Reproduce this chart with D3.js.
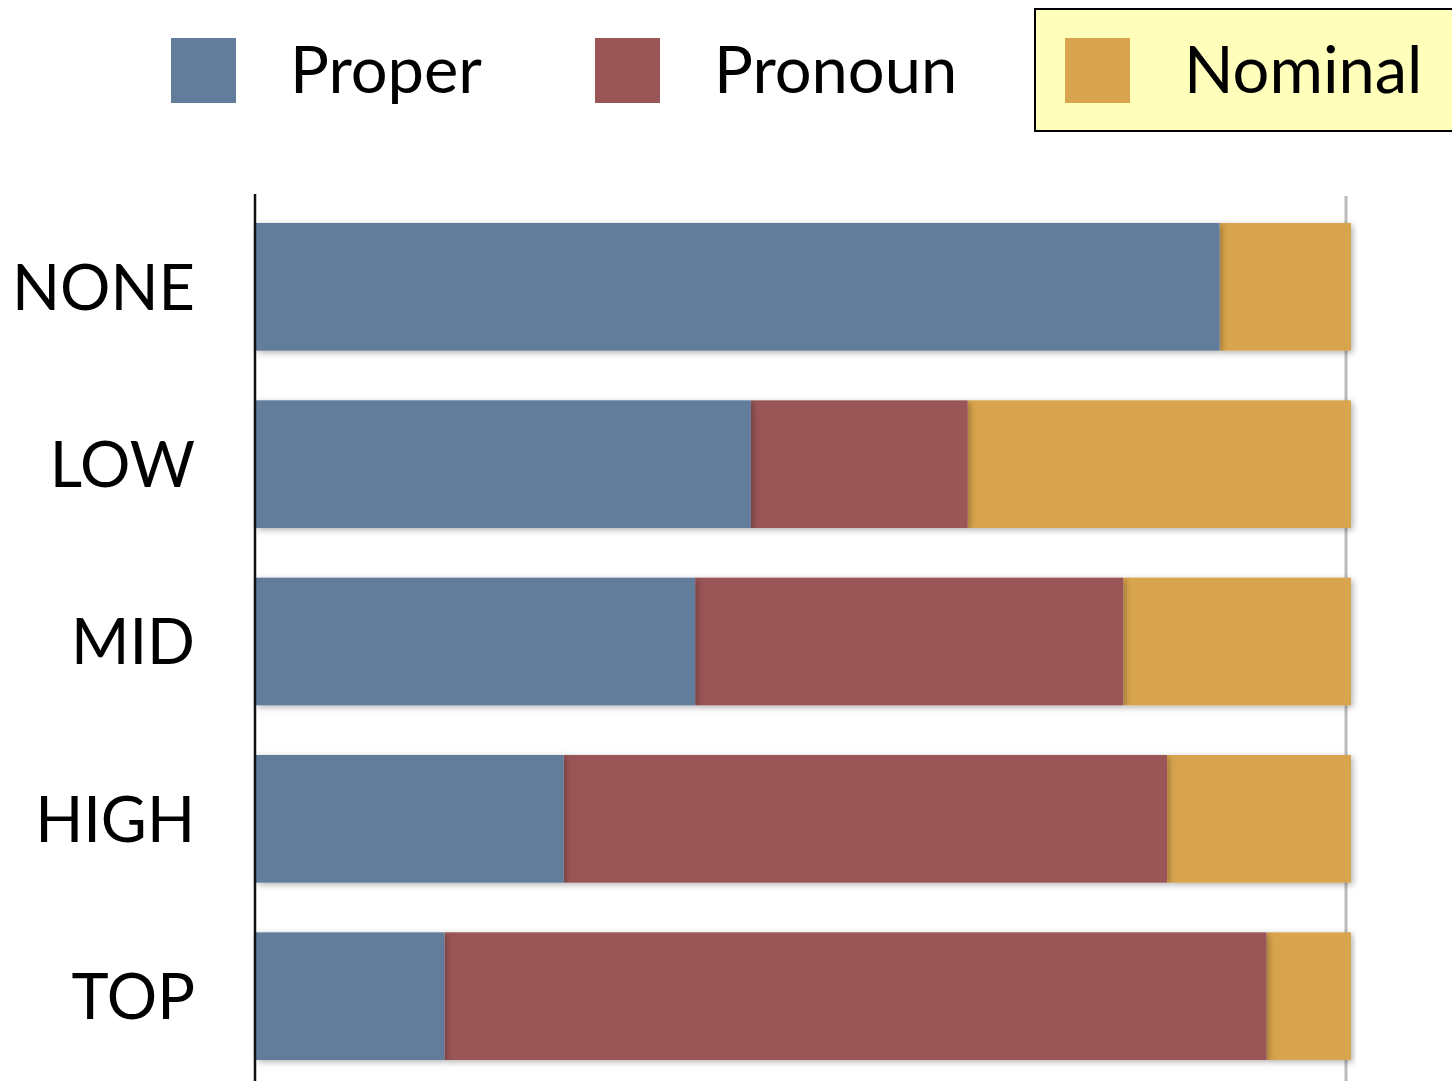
<!DOCTYPE html>
<html><head><meta charset="utf-8">
<script src="https://cdn.jsdelivr.net/npm/d3@7"></script>
<style>body{margin:0;background:#fff}svg{display:block}</style>
</head><body>
<script>
const categories = ["NONE","LOW","MID","HIGH","TOP"];
const seriesNames = ["Proper","Pronoun","Nominal"];
const proper  = [88.0, 45.2, 40.1, 28.1, 17.2];
const pronoun = [0.0, 19.8, 39.1, 55.1, 75.1];
const nominal = [12.0, 35.0, 20.8, 16.8, 7.7];
const colors = ["#627d9c","#9a5656","#d8a44e"];

const W = 1452, H = 1081;
const svg = d3.select("body").append("svg").attr("width", W).attr("height", H);
const defs = svg.append("defs");
const sh = defs.append("filter").attr("id","shadow").attr("x","-5%").attr("y","-20%").attr("width","110%").attr("height","140%");
sh.append("feDropShadow").attr("dx",2).attr("dy",2).attr("stdDeviation",3).attr("flood-color","#000").attr("flood-opacity",0.3);
const tex = defs.append("filter").attr("id","tex").attr("x","0").attr("y","0").attr("width","100%").attr("height","100%");
tex.append("feTurbulence").attr("type","fractalNoise").attr("baseFrequency",0.08).attr("numOctaves",2).attr("seed",3).attr("result","n");
tex.append("feColorMatrix").attr("in","n").attr("type","matrix")
  .attr("values","0 0 0 0 0  0 0 0 0 0  0 0 0 0 0  0 0 0 0.12 0").attr("result","na");
tex.append("feComposite").attr("in","na").attr("in2","SourceGraphic").attr("operator","in").attr("result","nc");
const m = tex.append("feMerge"); m.append("feMergeNode").attr("in","SourceGraphic"); m.append("feMergeNode").attr("in","nc");

const x = d3.scaleLinear().domain([0,100]).range([256,1351]);
const y = d3.scaleBand().domain(categories).range([223,1060]).paddingInner(0.28).paddingOuter(0);

const rows = categories.map((c,i)=>({cat:c, Proper:proper[i], Pronoun:pronoun[i], Nominal:nominal[i]}));
const stack = d3.stack().keys(seriesNames)(rows);

// right gray gridline
svg.append("line").attr("x1",x(100)-5).attr("x2",x(100)-5).attr("y1",196).attr("y2",H)
  .attr("stroke","#bbb").attr("stroke-width",3);

const g = svg.append("g");
stack.slice().reverse().forEach(layer=>{
  const k = seriesNames.indexOf(layer.key);
  g.append("g").selectAll("rect").data(layer.filter(d=>d[1]-d[0]>0)).join("rect")
    .attr("x", d=>x(d[0])).attr("width", d=>x(d[1])-x(d[0]))
    .attr("y", d=>y(d.data.cat)).attr("height", y.bandwidth())
    .attr("fill", colors[k]).attr("filter","url(#shadow)");
});

// left axis
svg.append("line").attr("x1",255).attr("x2",255).attr("y1",194).attr("y2",H)
  .attr("stroke","#111").attr("stroke-width",2.5);

const font = "Lato, 'Open Sans', sans-serif";
svg.append("g").selectAll("text").data(categories).join("text")
  .attr("x",195).attr("y",d=>y(d)+y.bandwidth()/2).attr("dy","0.36em")
  .attr("text-anchor","end").attr("font-family",font).attr("font-size",63)
  .attr("fill","#000").text(d=>d);

// legend
const legX = [171, 595, 1065];
svg.append("rect").attr("x",1035).attr("y",9).attr("width",430).attr("height",122)
  .attr("fill","#ffffbb").attr("stroke","#000").attr("stroke-width",2);
const lg = svg.append("g").selectAll("g").data(seriesNames).join("g")
  .attr("transform",(d,i)=>`translate(${legX[i]},38)`);
lg.append("rect").attr("width",65).attr("height",65).attr("fill",(d,i)=>colors[i]);
lg.append("text").attr("x",119).attr("y",55).attr("font-family",font).attr("font-size",65)
  .attr("fill","#000").text(d=>d);
</script>
</body></html>
